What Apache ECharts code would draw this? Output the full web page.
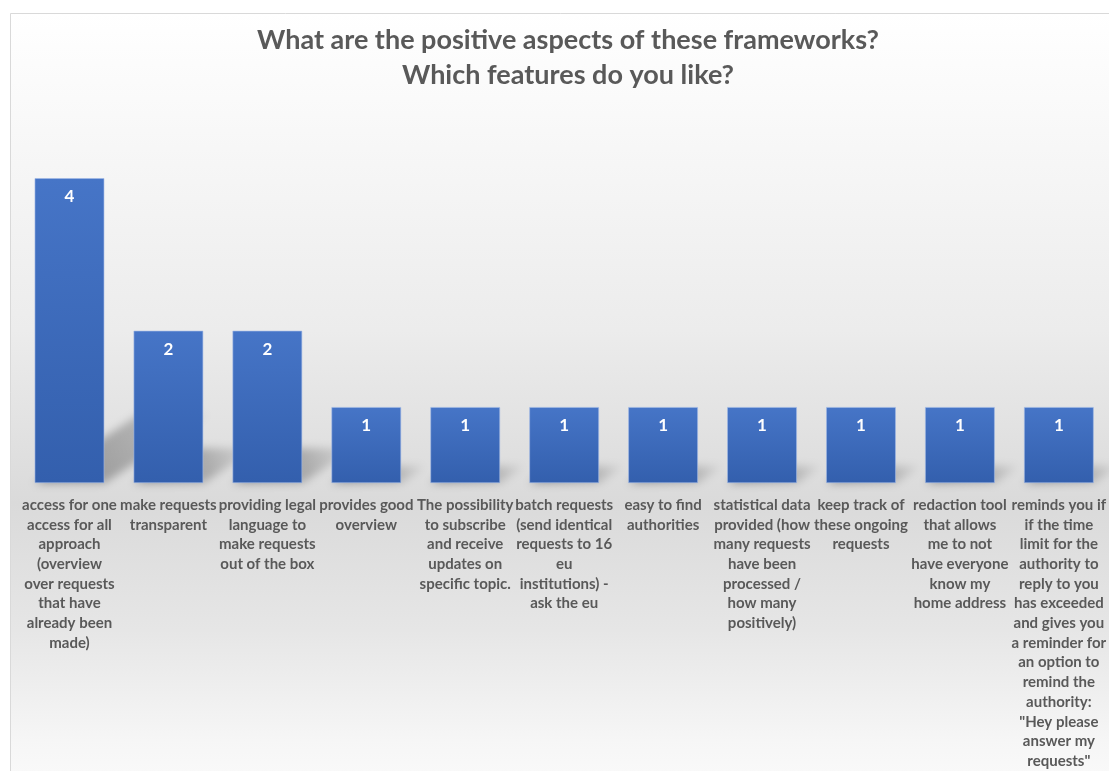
<!DOCTYPE html>
<html>
<head>
<meta charset="utf-8">
<script src="https://cdn.jsdelivr.net/npm/echarts@6/dist/echarts.min.js"></script>
<style>
html,body{margin:0;padding:0;background:#fff;}
#chart{width:1109px;height:771px;}
</style>
</head>
<body>
<div id="chart"></div>
<script>
const titleLines = ['What are the positive aspects of these frameworks?', 'Which features do you like?'];
const categories = [
  'access for one\naccess for all\napproach\n(overview\nover requests\nthat have\nalready been\nmade)',
  'make requests\ntransparent',
  'providing legal\nlanguage to\nmake requests\nout of the box',
  'provides good\noverview',
  'The possibility\nto subscribe\nand receive\nupdates on\nspecific topic.',
  'batch requests\n(send identical\nrequests to 16\neu\ninstitutions) -\nask the eu',
  'easy to find\nauthorities',
  'statistical data\nprovided (how\nmany requests\nhave been\nprocessed /\nhow many\npositively)',
  'keep track of\nthese ongoing\nrequests',
  'redaction tool\nthat allows\nme to not\nhave everyone\nknow my\nhome address',
  'reminds you if\nif the time\nlimit for the\nauthority to\nreply to you\nhas exceeded\nand gives you\na reminder for\nan option to\nremind the\nauthority:\n"Hey please\nanswer my\nrequests"'
];
const values = [4, 2, 2, 1, 1, 1, 1, 1, 1, 1, 1];

const FONT = 'Lato';
const chart = echarts.init(document.getElementById('chart'), null, {renderer: 'canvas'});

const shadowData = values.map((v, i) => [i, v]);
const OFF = 3000;

chart.setOption({
  animation: false,
  graphic: [{
    type: 'rect',
    z: -10,
    silent: true,
    shape: {x: 10.5, y: 13.5, width: 1130, height: 790},
    style: {
      stroke: '#d9d9d9',
      lineWidth: 1,
      fill: {
        type: 'linear', x: 0, y: 0, x2: 0, y2: 1,
        colorStops: [
          {offset: 0, color: '#ffffff'},
          {offset: 0.15, color: '#f8f8f8'},
          {offset: 0.40, color: '#ececec'},
          {offset: 0.62, color: '#dadada'},
          {offset: 0.78, color: '#e6e6e6'},
          {offset: 0.92, color: '#f6f6f6'},
          {offset: 1, color: '#fcfcfc'}
        ]
      }
    }
  }],
  title: {
    text: titleLines.join('\n'),
    left: 563,
    top: 18,
    textAlign: 'center',
    textStyle: {
      fontFamily: FONT,
      fontWeight: 'bold',
      fontSize: 27,
      lineHeight: 35,
      color: '#595959'
    }
  },
  grid: {left: 20, top: 178, width: 1092, height: 307, containLabel: false},
  xAxis: {
    type: 'category',
    data: categories,
    axisLine: {show: false},
    axisTick: {show: false},
    axisLabel: {
      interval: 0,
      margin: 12,
      fontFamily: FONT,
      fontWeight: 'bold',
      fontSize: 15,
      lineHeight: 19.7,
      color: '#595959'
    }
  },
  yAxis: {
    type: 'value',
    min: 0,
    max: 4,
    show: false,
    splitLine: {show: false}
  },
  series: [
    {
      type: 'custom',
      z: 1,
      silent: true,
      clip: false,
      data: shadowData,
      renderItem: function (params, api) {
        const i = api.value(0), v = api.value(1);
        const base = api.coord([i, 0]);
        const top = api.coord([i, v]);
        const h = base[1] - top[1];
        const half = 35;
        const dx = 0.35 * h, dy = 0.23 * h;
        const x0 = base[0] - half - OFF, x1 = base[0] + half - OFF, by = base[1];
        return {
          type: 'polygon',
          shape: {points: [[x0, by], [x1, by], [x1 + dx, by - dy], [x0 + dx, by - dy]]},
          style: {
            fill: {
              type: 'linear', x: 0, y: 1, x2: 1, y2: 0,
              colorStops: [
                {offset: 0, color: 'rgba(0,0,0,0.36)'},
                {offset: 0.6, color: 'rgba(0,0,0,0.22)'},
                {offset: 1, color: 'rgba(0,0,0,0.02)'}
              ]
            },
            shadowColor: 'rgba(0,0,0,1)',
            shadowBlur: 8,
            shadowOffsetX: OFF,
            shadowOffsetY: 0
          }
        };
      }
    },
    {
      type: 'bar',
      z: 2,
      data: values,
      barWidth: 70,
      itemStyle: {
        color: {
          type: 'linear', x: 0, y: 0, x2: 0, y2: 1,
          colorStops: [
            {offset: 0, color: '#4675c7'},
            {offset: 1, color: '#335fad'}
          ]
        },
        borderColor: 'rgba(160,185,230,0.6)',
        borderWidth: 1
      },
      label: {
        show: true,
        position: 'insideTop',
        distance: 10,
        fontFamily: FONT,
        fontWeight: 'bold',
        fontSize: 17,
        color: '#ffffff'
      }
    }
  ]
});
</script>
</body>
</html>
